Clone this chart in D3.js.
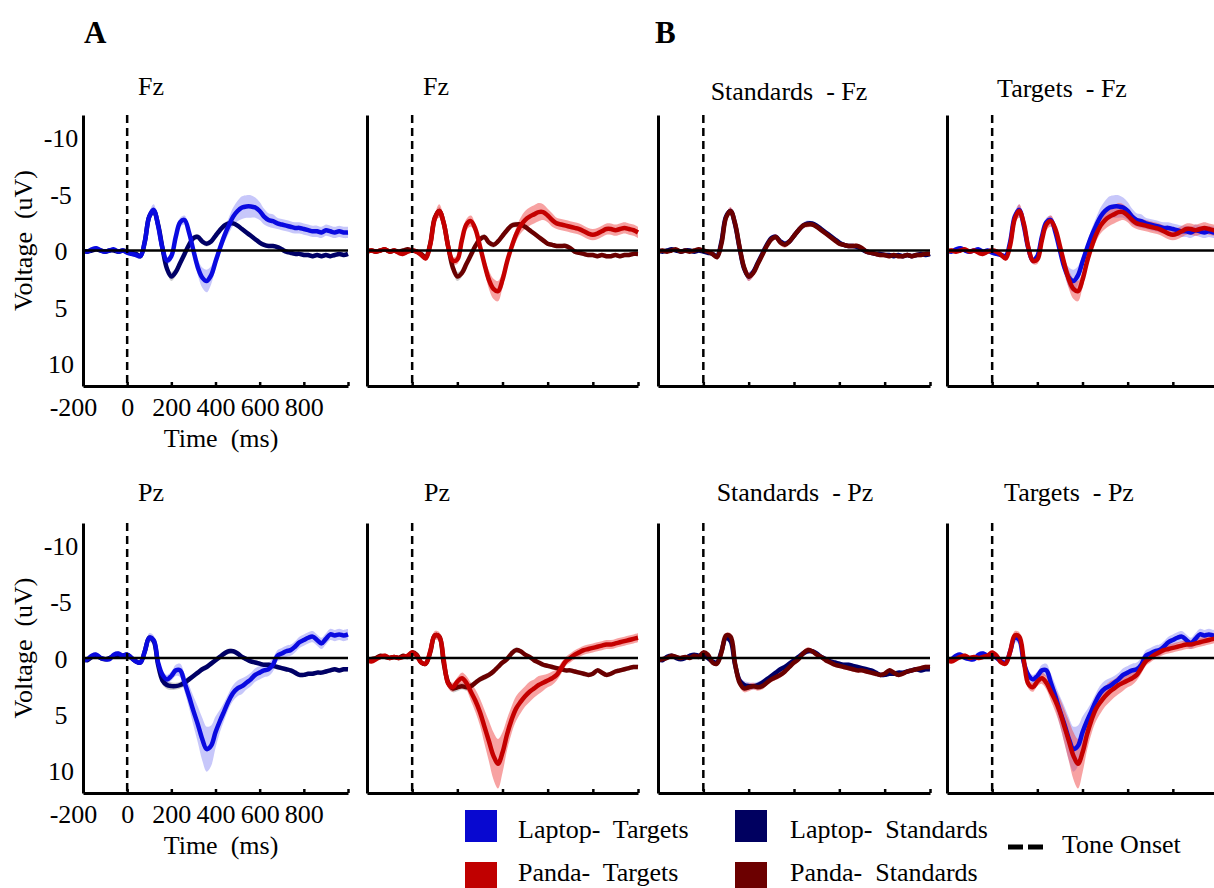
<!DOCTYPE html>
<html>
<head>
<meta charset="utf-8">
<script src="https://cdn.jsdelivr.net/npm/d3@7"></script>
<style>
  body { margin: 0; background: #fff; }
  svg text { font-family: "Liberation Serif", "Times New Roman", serif; fill: #000; }
</style>
</head>
<body>
<div id="erp"></div>
<script>
// sample times (ms), one value every 20 ms
let times = d3.range(-200, 1001, 20);

// ---- Fz (uV) ----
let laptopTargetsFz = [0.0, 0.1, -0.1, -0.2, 0.0, 0.1, 0.0, -0.1, 0.1, 0.0, 0.2, 0.3, 0.4, 0.5,
    -0.8, -3.0, -3.6, -2.2, -0.2, 0.9, 0.5, -1.2, -2.5, -2.7, -1.6, 0.0, 1.5, 2.4, 2.7, 2.2,
    1.0, -0.2, -1.3, -2.2, -3.0, -3.5, -3.8, -3.9, -3.9, -3.8, -3.5, -3.0, -2.7, -2.6, -2.4,
    -2.3, -2.2, -2.1, -2.0, -2.0, -1.9, -1.8, -1.7, -1.7, -1.6, -1.8, -1.7, -1.6, -1.7, -1.6, -1.6];
let laptopStandardsFz = [0.0, 0.1, 0.0, -0.1, 0.0, 0.1, 0.0, 0.0, 0.1, 0.0, 0.1, 0.2, 0.3, 0.5,
    -0.8, -3.0, -3.5, -2.3, -0.2, 1.6, 2.3, 1.9, 1.1, 0.3, -0.5, -1.1, -1.2, -0.8, -0.6, -0.8,
    -1.3, -1.8, -2.2, -2.4, -2.4, -2.2, -1.9, -1.6, -1.3, -1.0, -0.7, -0.5, -0.4, -0.4, -0.3,
    -0.1, 0.1, 0.2, 0.3, 0.3, 0.4, 0.4, 0.5, 0.4, 0.5, 0.4, 0.5, 0.4, 0.3, 0.4, 0.3];
let pandaTargetsFz = [0.1, 0.0, 0.1, 0.0, -0.1, 0.1, 0.0, 0.2, 0.3, 0.1, 0.0, 0.1, 0.4, 0.7,
    -0.5, -2.8, -3.5, -2.4, -0.3, 0.9, 0.8, -0.9, -2.3, -2.6, -1.9, -0.4, 1.2, 2.6, 3.4, 3.6,
    2.6, 1.0, -0.3, -1.4, -2.2, -2.7, -3.0, -3.2, -3.4, -3.4, -3.1, -2.7, -2.4, -2.3, -2.2,
    -2.1, -2.0, -1.9, -1.7, -1.5, -1.4, -1.5, -1.7, -1.9, -1.9, -1.8, -1.9, -2.0, -1.9, -1.8, -1.6];
let pandaStandardsFz = [0.1, 0.0, 0.1, 0.0, -0.1, 0.1, 0.0, 0.1, 0.0, -0.1, 0.0, 0.1, 0.3, 0.6,
    -0.6, -2.9, -3.5, -2.4, -0.3, 1.5, 2.3, 2.0, 1.2, 0.4, -0.4, -1.0, -1.2, -0.7, -0.5, -0.8,
    -1.3, -1.8, -2.2, -2.3, -2.3, -2.1, -1.8, -1.5, -1.2, -0.9, -0.6, -0.5, -0.4, -0.4, -0.4,
    -0.2, 0.1, 0.2, 0.3, 0.4, 0.4, 0.5, 0.4, 0.5, 0.5, 0.4, 0.5, 0.4, 0.4, 0.3, 0.3];

// ---- Pz (uV) ----
let laptopTargetsPz = [0.2, 0.1, -0.2, -0.3, 0.0, 0.1, 0.1, -0.3, -0.4, -0.2, -0.3, 0.0, 0.3, 0.4,
    -0.6, -1.8, -1.6, 0.4, 1.5, 1.9, 1.6, 1.1, 1.1, 2.2, 3.4, 4.7, 5.9, 7.2, 8.1, 7.8,
    6.6, 5.6, 4.7, 3.8, 3.1, 2.7, 2.5, 2.2, 1.9, 1.5, 1.3, 1.1, 1.0, 0.6, -0.2,
    -0.4, -0.6, -0.7, -1.0, -1.4, -1.6, -1.8, -1.9, -1.6, -1.3, -1.7, -2.1, -2.0, -2.1, -2.0, -2.1];
let laptopStandardsPz = [0.1, 0.2, -0.1, -0.2, 0.0, 0.1, 0.0, -0.2, -0.3, -0.2, -0.3, 0.0, 0.3, 0.4,
    -0.6, -1.8, -1.5, 0.6, 2.0, 2.4, 2.5, 2.5, 2.4, 2.2, 1.9, 1.6, 1.3, 1.0, 0.8, 0.5,
    0.2, -0.1, -0.4, -0.6, -0.6, -0.4, -0.1, 0.1, 0.3, 0.4, 0.5, 0.6, 0.6, 0.7, 0.8,
    0.9, 1.0, 1.1, 1.3, 1.5, 1.5, 1.4, 1.4, 1.3, 1.3, 1.2, 1.1, 1.0, 1.1, 1.0, 1.0];
let pandaTargetsPz = [0.2, 0.3, 0.1, -0.1, -0.2, 0.0, -0.1, 0.0, -0.1, -0.2, -0.5, -0.2, 0.4, 0.5,
    -0.6, -2.0, -1.9, 0.2, 2.3, 2.6, 2.1, 1.8, 2.2, 3.0, 3.8, 4.8, 6.1, 7.4, 8.7, 9.4,
    8.4, 6.8, 5.5, 4.5, 3.9, 3.4, 3.0, 2.7, 2.4, 2.2, 2.0, 1.8, 1.5, 0.9, 0.3,
    0.0, -0.3, -0.5, -0.7, -0.8, -0.9, -1.0, -1.1, -1.2, -1.2, -1.3, -1.4, -1.5, -1.6, -1.7, -1.8];
let pandaStandardsPz = [0.2, 0.1, 0.0, -0.2, -0.1, 0.0, -0.1, 0.0, -0.2, -0.1, -0.5, -0.3, 0.4, 0.5,
    -0.5, -2.0, -1.9, 0.5, 2.2, 2.7, 2.6, 2.5, 2.6, 2.5, 2.2, 1.9, 1.7, 1.5, 1.2, 0.8,
    0.4, 0.1, -0.4, -0.7, -0.6, -0.3, -0.1, 0.2, 0.4, 0.6, 0.7, 0.8, 0.9, 1.0, 1.1,
    1.1, 1.2, 1.3, 1.4, 1.5, 1.4, 1.1, 1.3, 1.5, 1.4, 1.2, 1.1, 1.0, 0.9, 0.8, 0.8];

// ---- standard error (uV), shaded bands ----
let seLaptopTargetsFz = [0.2, 0.2, 0.2, 0.2, 0.2, 0.2, 0.2, 0.2, 0.2, 0.2, 0.2, 0.2, 0.2, 0.2,
    0.3, 0.4, 0.5, 0.4, 0.3, 0.3, 0.4, 0.4, 0.4, 0.4, 0.4, 0.5, 0.7, 0.9, 1.0, 0.8,
    0.6, 0.5, 0.6, 0.7, 0.8, 0.9, 1.0, 1.0, 1.0, 0.9, 0.8, 0.7, 0.6, 0.6, 0.5,
    0.5, 0.5, 0.5, 0.5, 0.5, 0.5, 0.5, 0.5, 0.5, 0.5, 0.5, 0.5, 0.5, 0.5, 0.5, 0.5];
let seLaptopStandardsFz = [0.15, 0.15, 0.15, 0.15, 0.15, 0.15, 0.15, 0.15, 0.15, 0.15, 0.15, 0.15, 0.15, 0.15,
    0.2, 0.25, 0.3, 0.3, 0.3, 0.35, 0.4, 0.35, 0.3, 0.25, 0.25, 0.25, 0.25, 0.25, 0.25, 0.25,
    0.25, 0.25, 0.25, 0.25, 0.2, 0.2, 0.2, 0.2, 0.2, 0.2, 0.2, 0.2, 0.2, 0.2, 0.2,
    0.2, 0.2, 0.2, 0.2, 0.2, 0.2, 0.2, 0.2, 0.2, 0.2, 0.2, 0.2, 0.2, 0.2, 0.2, 0.2];
let sePandaTargetsFz = [0.2, 0.2, 0.2, 0.2, 0.2, 0.2, 0.2, 0.2, 0.2, 0.2, 0.2, 0.2, 0.2, 0.2,
    0.3, 0.4, 0.6, 0.5, 0.3, 0.3, 0.4, 0.5, 0.5, 0.5, 0.4, 0.5, 0.6, 0.8, 0.9, 0.9,
    0.7, 0.5, 0.5, 0.6, 0.7, 0.8, 0.8, 0.8, 0.8, 0.7, 0.6, 0.6, 0.5, 0.5, 0.5,
    0.5, 0.5, 0.5, 0.5, 0.5, 0.5, 0.5, 0.5, 0.5, 0.5, 0.5, 0.5, 0.5, 0.5, 0.5, 0.5];
let sePandaStandardsFz = [0.15, 0.15, 0.15, 0.15, 0.15, 0.15, 0.15, 0.15, 0.15, 0.15, 0.15, 0.15, 0.15, 0.15,
    0.2, 0.3, 0.35, 0.3, 0.3, 0.35, 0.4, 0.35, 0.3, 0.25, 0.25, 0.25, 0.25, 0.25, 0.25, 0.25,
    0.25, 0.25, 0.25, 0.25, 0.2, 0.2, 0.2, 0.2, 0.2, 0.2, 0.2, 0.2, 0.2, 0.2, 0.2,
    0.2, 0.2, 0.2, 0.2, 0.2, 0.2, 0.2, 0.2, 0.2, 0.2, 0.2, 0.2, 0.2, 0.2, 0.2, 0.2];
let seLaptopTargetsPz = [0.2, 0.2, 0.2, 0.2, 0.2, 0.2, 0.2, 0.2, 0.2, 0.2, 0.2, 0.2, 0.2, 0.2,
    0.3, 0.4, 0.4, 0.4, 0.4, 0.4, 0.4, 0.5, 0.6, 0.8, 1.0, 1.3, 1.6, 1.9, 2.0, 1.8,
    1.4, 1.0, 0.8, 0.7, 0.7, 0.7, 0.7, 0.6, 0.6, 0.6, 0.6, 0.6, 0.6, 0.6, 0.5,
    0.5, 0.5, 0.5, 0.5, 0.5, 0.5, 0.5, 0.5, 0.5, 0.5, 0.5, 0.5, 0.5, 0.5, 0.5, 0.5];
let seLaptopStandardsPz = [0.15, 0.15, 0.15, 0.15, 0.15, 0.15, 0.15, 0.15, 0.15, 0.15, 0.15, 0.15, 0.15, 0.15,
    0.2, 0.25, 0.3, 0.3, 0.35, 0.35, 0.35, 0.3, 0.3, 0.3, 0.25, 0.25, 0.25, 0.25, 0.25, 0.25,
    0.25, 0.25, 0.25, 0.25, 0.2, 0.2, 0.2, 0.2, 0.2, 0.2, 0.2, 0.2, 0.2, 0.2, 0.2,
    0.2, 0.2, 0.2, 0.2, 0.2, 0.2, 0.2, 0.2, 0.2, 0.2, 0.2, 0.2, 0.2, 0.2, 0.2, 0.2];
let sePandaTargetsPz = [0.2, 0.2, 0.2, 0.2, 0.2, 0.2, 0.2, 0.2, 0.2, 0.2, 0.2, 0.2, 0.2, 0.2,
    0.3, 0.4, 0.4, 0.4, 0.4, 0.4, 0.4, 0.5, 0.6, 0.8, 1.0, 1.2, 1.5, 1.8, 2.1, 2.2,
    1.8, 1.4, 1.2, 1.1, 1.0, 0.9, 0.9, 0.8, 0.8, 0.7, 0.6, 0.6, 0.5, 0.5, 0.4,
    0.4, 0.4, 0.4, 0.4, 0.4, 0.4, 0.4, 0.4, 0.4, 0.4, 0.4, 0.4, 0.4, 0.4, 0.4, 0.4];
let sePandaStandardsPz = [0.15, 0.15, 0.15, 0.15, 0.15, 0.15, 0.15, 0.15, 0.15, 0.15, 0.15, 0.15, 0.15, 0.15,
    0.2, 0.25, 0.3, 0.3, 0.35, 0.35, 0.35, 0.3, 0.3, 0.3, 0.25, 0.25, 0.25, 0.25, 0.25, 0.25,
    0.25, 0.25, 0.25, 0.25, 0.2, 0.2, 0.2, 0.2, 0.2, 0.2, 0.2, 0.2, 0.2, 0.2, 0.2,
    0.2, 0.2, 0.2, 0.2, 0.2, 0.2, 0.2, 0.2, 0.2, 0.2, 0.2, 0.2, 0.2, 0.2, 0.2, 0.2];

let yTicks = [-10, -5, 0, 5, 10];
let xTicks = [-200, 0, 200, 400, 600, 800];
let conditionNames = ["Laptop-  Targets", "Laptop-  Standards", "Panda-  Targets", "Panda-  Standards"];

// colours per condition
let lineColor = { LT: "#0a0ae0", LS: "#000066", PT: "#c40000", PS: "#6a0000" };
let legendColor = { LT: "#0808d0", LS: "#000060", PT: "#c00000", PS: "#6c0000" };
let grayBand = "rgba(110,110,110,0.35)";
let blueBand = "rgba(95,95,240,0.35)";
let redBand = "rgba(240,70,70,0.5)";

let width = 1214;
let height = 888;

var svg = d3.select("#erp")
    .append("svg")
    .attr("width", width)
    .attr("height", height);

// panel frame positions
let cols = [{ x0: 83, x1: 348 }, { x0: 367, x1: 638 }, { x0: 658, x1: 930 }, { x0: 947, x1: 1218 }];
let rows = [{ y0: 115, y1: 386 }, { y0: 523, y1: 793 }];

function series(v, se, key, band) {
    return times.map(function (t, i) {
        return { t: t, v: v[i], se: se[i], key: key, band: band };
    });
}

let fz = {
    LT: [laptopTargetsFz, seLaptopTargetsFz], LS: [laptopStandardsFz, seLaptopStandardsFz],
    PT: [pandaTargetsFz, sePandaTargetsFz], PS: [pandaStandardsFz, sePandaStandardsFz]
};
let pz = {
    LT: [laptopTargetsPz, seLaptopTargetsPz], LS: [laptopStandardsPz, seLaptopStandardsPz],
    PT: [pandaTargetsPz, sePandaTargetsPz], PS: [pandaStandardsPz, sePandaStandardsPz]
};

// which conditions go in each panel (drawn in order, last on top)
let panels = [
    { row: 0, col: 0, title: "Fz", tx: 151, ty: 95, elec: fz, show: [["LS", grayBand], ["LT", blueBand]], labels: true },
    { row: 0, col: 1, title: "Fz", tx: 436, ty: 95, elec: fz, show: [["PS", grayBand], ["PT", redBand]] },
    { row: 0, col: 2, title: "Standards  - Fz", tx: 789, ty: 100, elec: fz, show: [["LS", blueBand], ["PS", redBand]] },
    { row: 0, col: 3, title: "Targets  - Fz", tx: 1062, ty: 97, elec: fz, show: [["LT", blueBand], ["PT", redBand]] },
    { row: 1, col: 0, title: "Pz", tx: 151, ty: 501, elec: pz, show: [["LS", grayBand], ["LT", blueBand]], labels: true },
    { row: 1, col: 1, title: "Pz", tx: 437, ty: 501, elec: pz, show: [["PS", grayBand], ["PT", redBand]] },
    { row: 1, col: 2, title: "Standards  - Pz", tx: 795, ty: 501, elec: pz, show: [["LS", blueBand], ["PS", redBand]] },
    { row: 1, col: 3, title: "Targets  - Pz", tx: 1069, ty: 501, elec: pz, show: [["LT", blueBand], ["PT", redBand]] }
];

panels.forEach(function (p) {
    let c = cols[p.col];
    let r = rows[p.row];
    let g = svg.append("g");

    let x = d3.scaleLinear().domain([-200, 1000]).range([c.x0, c.x1]);
    // negative voltage plotted upwards
    let y = d3.scaleLinear().domain([-12, 12]).range([r.y0, r.y1]);

    let data = p.show.map(function (s) {
        return series(p.elec[s[0]][0], p.elec[s[0]][1], s[0], s[1]);
    });

    let area = d3.area()
        .x(function (d) { return x(d.t); })
        .y0(function (d) { return y(d.v - d.se); })
        .y1(function (d) { return y(d.v + d.se); })
        .curve(d3.curveCatmullRom);

    let line = d3.line()
        .x(function (d) { return x(d.t); })
        .y(function (d) { return y(d.v); })
        .curve(d3.curveCatmullRom);

    g.selectAll(".band")
        .data(data)
        .enter()
        .append("path")
        .attr("d", area)
        .style("fill", function (d) { return d[0].band; })
        .style("stroke", "none");

    g.selectAll(".erp")
        .data(data)
        .enter()
        .append("path")
        .attr("d", line)
        .style("fill", "none")
        .style("stroke", function (d) { return lineColor[d[0].key]; })
        .style("stroke-width", 4.5)
        .style("stroke-linejoin", "round");

    // zero line
    g.append("line")
        .attr("x1", x(-200)).attr("x2", x(1000))
        .attr("y1", y(0)).attr("y2", y(0))
        .style("stroke", "#000").style("stroke-width", 2.5);

    // tone onset
    g.append("line")
        .attr("x1", x(0)).attr("x2", x(0))
        .attr("y1", y(-12)).attr("y2", y(12))
        .style("stroke", "#000").style("stroke-width", 2.5)
        .style("stroke-dasharray", "8,5");

    // x axis, small ticks pointing up
    let xa = g.append("g")
        .attr("transform", "translate(0," + r.y1 + ")")
        .call(d3.axisBottom(x)
            .tickValues([-200, 0, 200, 400, 600, 800, 1000])
            .tickSize(-4)
            .tickSizeOuter(0)
            .tickFormat(function (d) { return p.labels && xTicks.indexOf(d) >= 0 ? String(d) : ""; }));
    xa.select(".domain").style("stroke-width", 3);
    xa.selectAll(".tick line").style("stroke-width", 2.5);
    xa.selectAll(".tick text")
        .attr("y", 30).attr("dy", 0)
        .attr("dx", function (d) { return d < 0 ? -10 : 0; })
        .style("font-size", "26px");

    let ya = g.append("g")
        .attr("transform", "translate(" + c.x0 + ",0)")
        .call(d3.axisLeft(y)
            .tickValues(p.labels ? yTicks : [])
            .tickSize(0)
            .tickSizeOuter(0)
            .tickFormat(function (d) { return String(d); }));
    ya.select(".domain").style("stroke-width", 3);
    ya.selectAll(".tick text")
        .attr("x", -22)
        .attr("dy", "0.35em")
        .style("text-anchor", "middle")
        .style("font-size", "26px");

    g.append("text")
        .attr("x", p.tx).attr("y", p.ty)
        .style("text-anchor", "middle")
        .style("font-size", "26px")
        .style("white-space", "pre")
        .text(p.title);

    if (p.labels) {
        g.append("text")
            .attr("x", 221).attr("y", r.y1 + 61)
            .style("text-anchor", "middle")
            .style("font-size", "26px")
            .style("white-space", "pre")
            .text("Time  (ms)");
        g.append("text")
            .attr("transform", "translate(32," + ((r.y0 + r.y1) / 2 - 10) + ") rotate(-90)")
            .style("text-anchor", "middle")
            .style("font-size", "26px")
            .style("white-space", "pre")
            .text("Voltage  (uV)");
    }
});

// panel letters
svg.append("text").attr("x", 84).attr("y", 43)
    .style("font-size", "31px").style("font-weight", "bold").text("A");
svg.append("text").attr("x", 655).attr("y", 43)
    .style("font-size", "31px").style("font-weight", "bold").text("B");

// legend
let legendKeys = ["LT", "LS", "PT", "PS"];
let legend = svg.append("g");
let lx = d3.scalePoint().domain([0, 1]).range([465, 735]);
let ly = d3.scalePoint().domain([0, 1]).range([810, 862]);
let textBase = [838, 881];

legendKeys.forEach(function (k, i) {
    let col = i % 2;
    let row = Math.floor(i / 2);
    legend.append("rect")
        .attr("x", lx(col)).attr("y", ly(row))
        .attr("width", 32).attr("height", 32)
        .style("fill", legendColor[k]);
    legend.append("text")
        .attr("x", lx(col) + (col === 0 ? 53 : 55)).attr("y", textBase[row])
        .style("font-size", "26px")
        .style("white-space", "pre")
        .text(conditionNames[i]);
});

legend.append("line")
    .attr("x1", 1008).attr("x2", 1043)
    .attr("y1", 847).attr("y2", 847)
    .style("stroke", "#000").style("stroke-width", 5)
    .style("stroke-dasharray", "15,5");
legend.append("text")
    .attr("x", 1062).attr("y", 853)
    .style("font-size", "26px")
    .text("Tone Onset");
</script>
</body>
</html>
